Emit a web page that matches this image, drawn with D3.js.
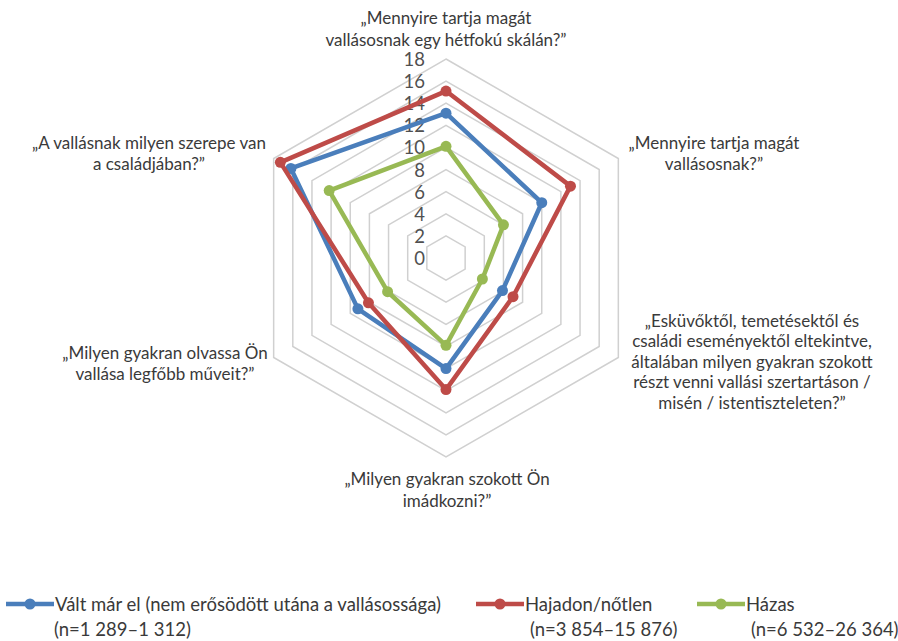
<!DOCTYPE html>
<html><head><meta charset="utf-8">
<script src="https://cdn.jsdelivr.net/npm/d3@7"></script>
<style>html,body{margin:0;padding:0;background:#fff;}</style>
</head><body>
<svg id="c" width="898" height="641"></svg>
<script>
const axisLabels = [
  ["„Mennyire tartja magát", "vallásosnak egy hétfokú skálán?”"],
  ["„Mennyire tartja magát", "vallásosnak?”"],
  ["„Esküvőktől, temetésektől és", "családi eseményektől eltekintve,", "általában milyen gyakran szokott", "részt venni vallási szertartáson /", "misén / istentiszteleten?”"],
  ["„Milyen gyakran szokott Ön", "imádkozni?”"],
  ["„Milyen gyakran olvassa Ön", "vallása legfőbb műveit?”"],
  ["„A vallásnak milyen szerepe van", "a családjában?”"]
];
const seriesNames = ["Vált már el (nem erősödött utána a vallásossága)", "Hajadon/nőtlen", "Házas"];
const seriesNotes = ["(n=1 289–1 312)", "(n=3 854–15 876)", "(n=6 532–26 364)"];
const valuesDivorced = [13.1, 10.0, 5.9, 10.0, 9.2, 16.2];
const valuesSingle = [15.1, 13.0, 7.0, 11.9, 8.1, 17.3];
const valuesMarried = [10.1, 6.0, 3.8, 7.9, 6.1, 12.2];
const tickValues = [0, 2, 4, 6, 8, 10, 12, 14, 16, 18];

const colors = ["#4a7ebb", "#be4b48", "#98b954"];
const allSeries = [valuesDivorced, valuesSingle, valuesMarried];

const svg = d3.select("#c");
const cx = 446, cy = 258, R = 199;
const FONT = "Lato, 'Open Sans', sans-serif";
const textColor = "#3a3a3a";

const r = d3.scaleLinear().domain([0, 18]).range([0, R]);
const n = axisLabels.length;
const ang = d3.scaleLinear().domain([0, n]).range([-Math.PI / 2, 3 * Math.PI / 2]);
const pt = (i, v) => [cx + r(v) * Math.cos(ang(i)), cy + r(v) * Math.sin(ang(i))];

// grid rings
const ringVals = tickValues.filter(v => v > 0);
svg.append("g").selectAll("polygon").data(ringVals).join("polygon")
  .attr("points", v => d3.range(n).map(i => pt(i, v).join(",")).join(" "))
  .attr("fill", "none").attr("stroke", "#d0d0d0").attr("stroke-width", 1.5);

// tick labels
svg.append("g").selectAll("text").data(tickValues).join("text")
  .attr("x", cx - 21).attr("y", v => cy - r(v))
  .attr("text-anchor", "end").attr("dominant-baseline", "central")
  .attr("font-family", FONT).attr("font-size", 18.5).attr("fill", "#505050")
  .text(v => v);

// series
const line = d3.line().curve(d3.curveLinearClosed);
allSeries.forEach((vals, s) => {
  const g = svg.append("g");
  g.append("path").attr("d", line(vals.map((v, i) => pt(i, v))))
    .attr("fill", "none").attr("stroke", colors[s]).attr("stroke-width", 4.5)
    .attr("stroke-linejoin", "round");
  g.selectAll("circle").data(vals).join("circle")
    .attr("cx", (v, i) => pt(i, v)[0]).attr("cy", (v, i) => pt(i, v)[1])
    .attr("r", 5.5).attr("fill", colors[s]);
});

// axis labels
const labelPos = [
  {x: 446, y: 17, lh: 22},
  {x: 714, y: 142, lh: 21},
  {x: 752, y: 320, lh: 20.5},
  {x: 447, y: 478, lh: 22},
  {x: 165, y: 352, lh: 21},
  {x: 149, y: 142, lh: 21}
];
axisLabels.forEach((lines, i) => {
  const t = svg.append("text").attr("font-family", FONT).attr("font-size", 17)
    .attr("fill", textColor).attr("text-anchor", "middle");
  lines.forEach((l, k) => {
    t.append("tspan").attr("x", labelPos[i].x).attr("y", labelPos[i].y + k * labelPos[i].lh)
      .attr("dominant-baseline", "central").text(l);
  });
});

// legend
const legX = [6, 476, 697];
const legY1 = 604, legY2 = 629;
seriesNames.forEach((name, s) => {
  const g = svg.append("g");
  g.append("line").attr("x1", legX[s]).attr("x2", legX[s] + 48)
    .attr("y1", legY1).attr("y2", legY1).attr("stroke", colors[s]).attr("stroke-width", 4.5);
  g.append("circle").attr("cx", legX[s] + 24).attr("cy", legY1).attr("r", 5.5).attr("fill", colors[s]);
  g.append("text").attr("x", legX[s] + 49).attr("y", legY1).attr("dominant-baseline", "central")
    .attr("font-family", FONT).attr("font-size", 18.5).attr("fill", textColor).text(name);
  g.append("text").attr("x", legX[s] + 48 + (s === 0 ? 0 : 6)).attr("y", legY2).attr("dominant-baseline", "central")
    .attr("font-family", FONT).attr("font-size", 18.5).attr("fill", textColor).text(seriesNotes[s]);
});
</script>
</body></html>
